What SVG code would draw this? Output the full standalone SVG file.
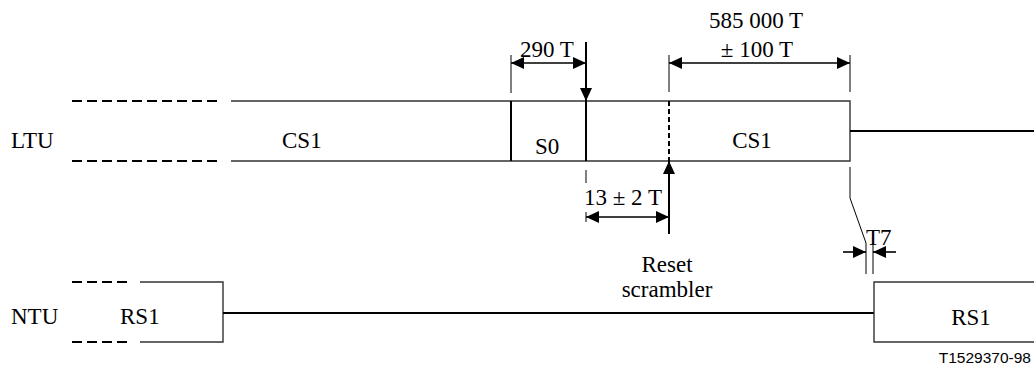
<svg xmlns="http://www.w3.org/2000/svg" width="1034" height="367" viewBox="0 0 1034 367">
<style>
.t{font-family:"Liberation Serif","Times New Roman",serif;font-size:23px;fill:#000}
.m{text-anchor:middle}
.box{fill:none;stroke:#333;stroke-width:1.4}
.thick{stroke:#000;stroke-width:2;fill:none}
.thin{stroke:#000;stroke-width:1;fill:none}
.dash{stroke:#000;stroke-width:2;stroke-dasharray:10 5;fill:none}
.arr{stroke:#000;stroke-width:1.6;fill:none}
</style>
<defs>
<marker id="ah" markerUnits="userSpaceOnUse" viewBox="0 0 13 12" refX="13" refY="6" markerWidth="13" markerHeight="12" orient="auto-start-reverse">
<path d="M0,0 L13,6 L0,12 z" fill="#000"/>
</marker>
</defs>
<rect width="1034" height="367" fill="#fff"/>
<g id="ltu">
<path class="dash" d="M72,101 H222 M72,161 H222"/>
<path class="box" d="M231,101 H850 V161 H231"/>
<path class="thick" d="M511,101 V161 M586,101 V161"/>
<path class="thick" stroke-dasharray="5 3" d="M669,101 V161"/>
<path class="thick" d="M850,131 H1034"/>
<text class="t" x="11" y="148">LTU</text>
<text class="t" x="282" y="148">CS1</text>
<text class="t" x="535" y="154">S0</text>
<text class="t m" x="752" y="148">CS1</text>
</g>
<g id="ntu">
<path class="dash" d="M72,282 H130 M72,342 H130"/>
<path class="box" d="M140,282 H223 V342 H140"/>
<path class="thick" d="M223,313 H874"/>
<path class="box" d="M1035,282 H874 V342 H1035"/>
<text class="t" x="11" y="324">NTU</text>
<text class="t" x="120" y="324">RS1</text>
<text class="t m" x="971" y="325">RS1</text>
</g>
<g id="connectors">
<path class="thin" d="M511,55 V93 M669,55 V92 M850,55 V92"/>
<path class="arr" d="M511,63 H586" marker-start="url(#ah)" marker-end="url(#ah)"/>
<path class="thick" d="M586,42 V101" marker-end="url(#ah)"/>
<path class="arr" d="M669,63 H850" marker-start="url(#ah)" marker-end="url(#ah)"/>
<path class="thin" stroke="#555" d="M586,170 V183 M586,212 V222"/>
<path class="arr" d="M586,217 H669" marker-start="url(#ah)" marker-end="url(#ah)"/>
<path class="thick" d="M669,234 V161" marker-end="url(#ah)"/>
<path class="thin" d="M850,167 V198 L866,243 V274 M873,243 V274"/>
<path class="arr" d="M843,252 H866" marker-end="url(#ah)"/>
<path class="arr" d="M896,252 H873" marker-end="url(#ah)"/>
</g>
<g id="labels">
<text class="t" x="520" y="57">290 T</text>
<text class="t m" x="756" y="28">585 000 T</text>
<text class="t m" x="757" y="57">± 100 T</text>
<text class="t" x="584" y="205">13 ± 2 T</text>
<text class="t" x="866" y="245">T7</text>
<text class="t m" x="667" y="272">Reset</text>
<text class="t m" x="667" y="297">scrambler</text>
<text x="1031" y="363" text-anchor="end" font-family="Liberation Sans, Arial, sans-serif" font-size="15.5">T1529370-98</text>
</g>
</svg>
